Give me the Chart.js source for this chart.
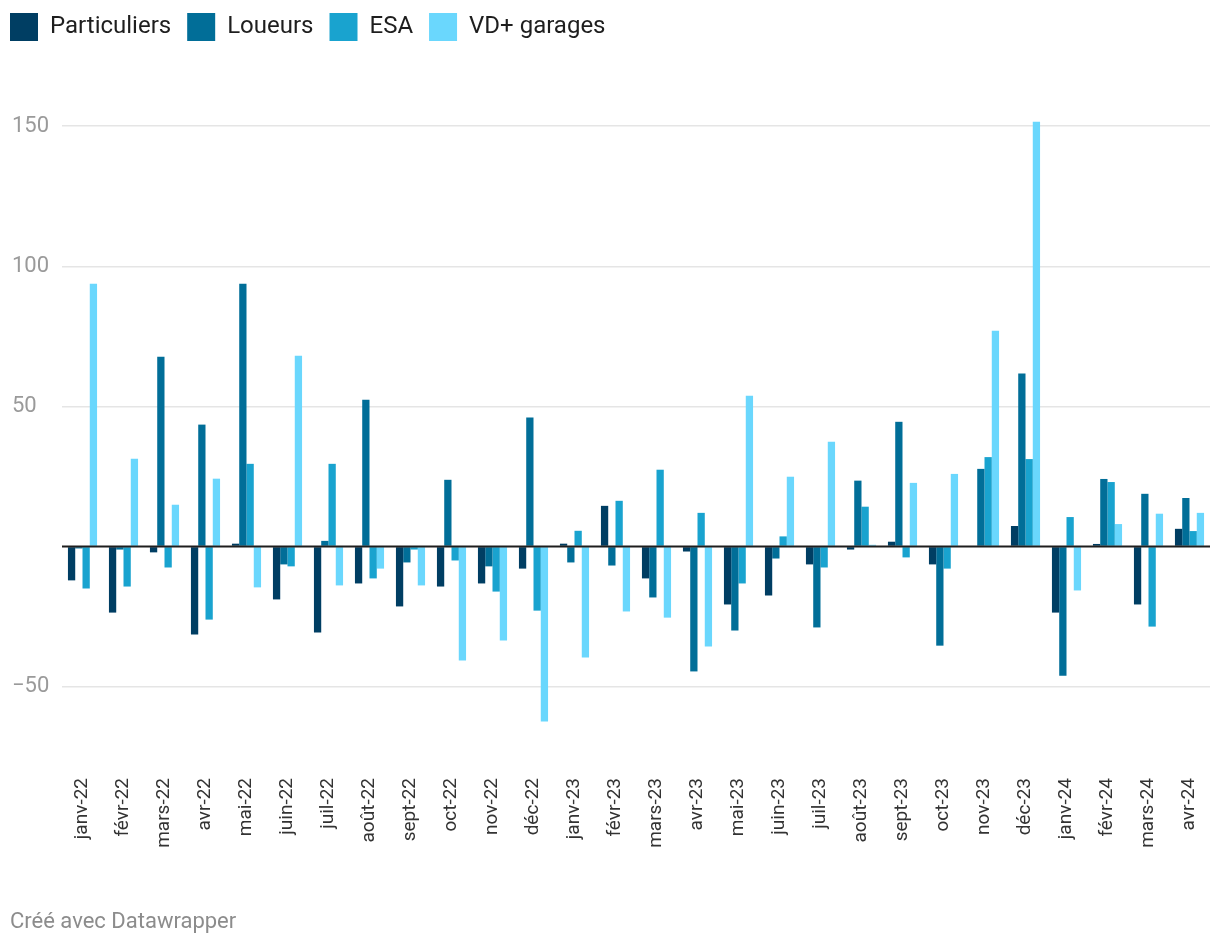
<!DOCTYPE html>
<html>
<head>
<meta charset="utf-8">
<script src="https://cdn.jsdelivr.net/npm/chart.js@4"></script>
<style>
  body { margin: 0; background: #fff; }
  #wrap { position: relative; width: 1220px; height: 946px; }
  #note { position: absolute; left: 10px; top: 910px; font: 22px Roboto, sans-serif; line-height: 22px; color: #8c8c8c; }
</style>
</head>
<body>
<div id="wrap">
  <canvas id="mycanvas"></canvas>
  <div id="note">Créé avec Datawrapper</div>
</div>
<script>
var months = ['janv-22', 'févr-22', 'mars-22', 'avr-22', 'mai-22', 'juin-22', 'juil-22', 'août-22', 'sept-22', 'oct-22', 'nov-22', 'déc-22',
  'janv-23', 'févr-23', 'mars-23', 'avr-23', 'mai-23', 'juin-23', 'juil-23', 'août-23', 'sept-23', 'oct-23', 'nov-23', 'déc-23',
  'janv-24', 'févr-24', 'mars-24', 'avr-24'];

var particuliers = [-12.1, -23.6, -2.1, -31.4, 1, -18.9, -30.7, -13.2, -21.4, -14.3, -13.2, -7.9,
  1, 14.5, -11.4, -1.8, -20.7, -17.5, -6.4, -1.1, 1.7, -6.4, 0, 7.3, -23.6, 0.9, -20.7, 6.3];
var loueurs = [-0.7, -1.1, 67.7, 43.5, 93.8, -6.4, 2.0, 52.4, -5.7, 23.8, -7.1, 46,
  -5.7, -6.8, -18.2, -44.6, -30, -4.3, -28.9, 23.5, 44.5, -35.4, 27.7, 61.7, -46.1, 24.1, 18.8, 17.3];
var esa = [-15, -14.3, -7.5, -26.1, 29.5, -7.1, 29.5, -11.4, -1.1, -5, -16.1, -22.9,
  5.6, 16.3, 27.4, 12.0, -13.2, 3.6, -7.5, 14.2, -3.9, -7.9, 31.9, 31.2, 10.5, 23.0, -28.6, 5.5];
var vdGarages = [93.8, 31.3, 14.9, 24.2, -14.6, 68.1, -13.9, -7.9, -13.9, -40.7, -33.6, -62.5,
  -39.6, -23.2, -25.4, -35.7, 53.8, 24.9, 37.4, 0.6, 22.7, 25.9, 77.0, 151.6, -15.7, 8.0, 11.7, 12.0];

var yTicks = [-50, 0, 50, 100, 150];

// legend sits a bit higher/left than chart.js puts it
var legendPlace = {
  id: 'legendPlace',
  afterLayout: function(chart) {
    chart.legend.left -= 18;
    chart.legend.top -= 8;
  }
};

// dark baseline drawn over the bars
var zeroLine = {
  id: 'zeroLine',
  afterDatasetsDraw: function(chart) {
    var ctx = chart.ctx;
    var area = chart.chartArea;
    var y = chart.scales.y.getPixelForValue(0);
    ctx.save();
    ctx.strokeStyle = '#1e1e1e';
    ctx.lineWidth = 2;
    ctx.beginPath();
    ctx.moveTo(area.left, y);
    ctx.lineTo(area.right, y);
    ctx.stroke();
    ctx.restore();
  }
};

var chartdata = {
  labels: months,
  datasets: [
    { label: 'Particuliers', backgroundColor: '#003e63', data: particuliers },
    { label: 'Loueurs', backgroundColor: '#016e98', data: loueurs },
    { label: 'ESA', backgroundColor: '#19a3cf', data: esa },
    { label: 'VD+ garages', backgroundColor: '#6ad7fd', data: vdGarages }
  ]
};

var ctx = document.getElementById('mycanvas');
var barGraph = new Chart(ctx, {
  type: 'bar',
  data: chartdata,
  plugins: [legendPlace, zeroLine],
  options: {
    responsive: true,
    maintainAspectRatio: false,
    animation: false,
    datasets: {
      bar: { categoryPercentage: 0.71, barPercentage: 1, borderWidth: 0 }
    },
    layout: { padding: { left: 12, right: 10, top: 5, bottom: 0 } },
    plugins: {
      legend: {
        position: 'top',
        align: 'start',
        labels: {
          boxWidth: 28,
          boxHeight: 28,
          padding: 16,
          color: '#1e1e1e',
          font: { family: 'Roboto', size: 24 }
        }
      },
      tooltip: { enabled: false }
    },
    scales: {
      x: {
        grid: { display: false, drawTicks: false },
        border: { display: false },
        ticks: {
          autoSkip: false,
          minRotation: 90,
          maxRotation: 90,
          padding: 13,
          color: '#333',
          font: { family: 'Roboto', size: 19 }
        },
        afterFit: function(scale) {
          scale.height = 181;
          scale.paddingLeft = 0;
          scale.paddingRight = 0;
        }
      },
      y: {
        min: -78,
        max: 174,
        afterBuildTicks: function(scale) {
          scale.ticks = yTicks.map(function(v) { return { value: v }; });
        },
        afterFit: function(scale) { scale.width = 50; },
        grid: {
          drawTicks: false,
          lineWidth: 1.5,
          color: function(c) { return c.tick && c.tick.value === 0 ? 'rgba(0,0,0,0)' : '#e5e5e5'; }
        },
        border: { display: false },
        ticks: {
          crossAlign: 'far',
          color: '#9a9a9a',
          font: { family: 'Roboto', size: 22 },
          callback: function(v) {
            if (v === 0) return '';
            return v < 0 ? '\u2212' + Math.abs(v) : String(v);
          }
        }
      }
    }
  }
});
</script>
</body>
</html>
